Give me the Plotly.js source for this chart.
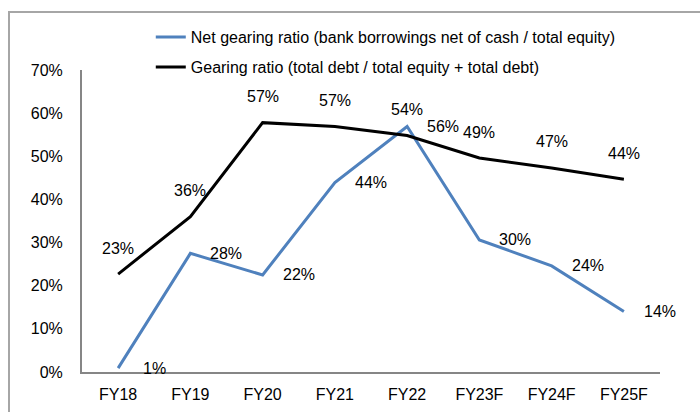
<!DOCTYPE html>
<html><head><meta charset="utf-8">
<script src="https://cdn.plot.ly/plotly-3.0.1.min.js"></script>
<style>
html,body{margin:0;padding:0;background:#fff;overflow:hidden;}
#frame{position:absolute;left:8px;top:11px;width:800px;height:500px;border:2px solid #a6a6a6;}
#chart{position:absolute;left:0;top:0;width:700px;height:412px;}
</style></head>
<body>
<div id="frame"></div>
<div id="chart"></div>
<script>
const categories = ["FY18","FY19","FY20","FY21","FY22","FY23F","FY24F","FY25F"];
const netGearing = [0.009, 0.275, 0.225, 0.439, 0.569, 0.306, 0.246, 0.140];
const netLabels = ["1%","28%","22%","44%","56%","30%","24%","14%"];
const gearing = [0.227, 0.360, 0.578, 0.569, 0.548, 0.496, 0.473, 0.447];
const gearingLabels = ["23%","36%","57%","57%","54%","49%","47%","44%"];
const yTicks = [0,0.1,0.2,0.3,0.4,0.5,0.6,0.7];

const FONT = "Liberation Sans, Arial, sans-serif";
const FS = 16;

const traces = [
  {x: categories, y: netGearing, type: "scatter", mode: "lines",
   name: "Net gearing ratio (bank borrowings net of cash / total equity)",
   line: {color: "#4f81bd", width: 3}, legend: "legend", hoverinfo: "skip"},
  {x: categories, y: gearing, type: "scatter", mode: "lines",
   name: "Gearing ratio (total debt / total equity + total debt)",
   line: {color: "#000000", width: 3}, legend: "legend2", hoverinfo: "skip"}
];

const annotations = [];
categories.forEach((c, i) => {
  annotations.push({x: c, y: netGearing[i], text: netLabels[i], showarrow: false,
    xshift: 36, yshift: 0, font: {family: FONT, size: FS, color: "#000"}});
  annotations.push({x: c, y: gearing[i], text: gearingLabels[i], showarrow: false,
    xshift: 0, yshift: 26, font: {family: FONT, size: FS, color: "#000"}});
});

const layout = {
  width: 700, height: 412,
  margin: {l: 82, r: 40, t: 70, b: 40, autoexpand: false},
  paper_bgcolor: "rgba(0,0,0,0)", plot_bgcolor: "rgba(0,0,0,0)",
  font: {family: FONT, size: FS, color: "#000"},
  showlegend: true,
  legend: {x: 0.119, y: 1.109, xanchor: "left", yanchor: "middle", bgcolor: "rgba(0,0,0,0)",
           font: {family: FONT, size: FS, color: "#000"}},
  legend2: {x: 0.119, y: 1.01, xanchor: "left", yanchor: "middle", bgcolor: "rgba(0,0,0,0)",
           font: {family: FONT, size: FS, color: "#000"}},
  xaxis: {type: "category", range: [-0.5, 7.5], showgrid: false, zeroline: false,
          showline: true, linecolor: "#868686", linewidth: 2, ticks: "", ticklen: 0,
          ticklabelstandoff: 7, tickfont: {family: FONT, size: FS, color: "#000"}, fixedrange: true},
  yaxis: {range: [0, 0.7], tickvals: yTicks, tickformat: ".0%", showgrid: false, zeroline: false,
          showline: true, linecolor: "#868686", linewidth: 2, ticks: "", ticklen: 0,
          ticklabelstandoff: 14, tickfont: {family: FONT, size: FS, color: "#000"}, fixedrange: true},
  annotations: annotations
};

Plotly.newPlot("chart", traces, layout, {displayModeBar: false, staticPlot: true});
</script>
</body></html>
